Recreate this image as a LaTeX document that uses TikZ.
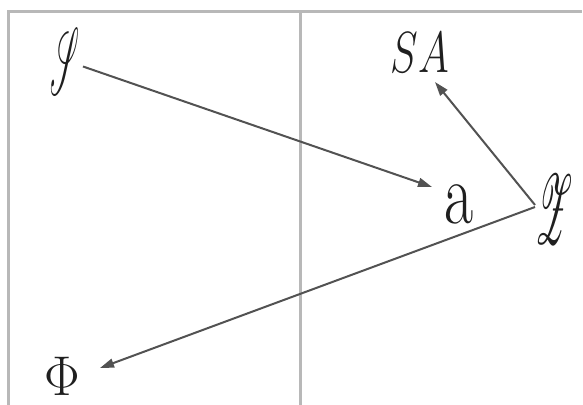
\documentclass[tikz,border=0pt]{standalone}
\usepackage{fix-cm}
\usepackage{graphicx}
\usepackage{mathrsfs}
\usetikzlibrary{arrows.meta,calc}
\begin{document}
\begin{tikzpicture}[x=0.5pt,y=-0.5pt,
  frame/.style={draw=black!28,line width=1.5pt},
  conn/.style={draw=black!68,line width=1pt,-{Triangle[length=7pt,width=4.5pt]}},
  lbl/.style={inner sep=0pt,text=black!88}]
\useasboundingbox (0,0) rectangle (583,405);
\draw[frame] (8,405) -- (8,12) -- (582,12);
\draw[frame] (300,12) -- (300,405);
\node[lbl] (S) at (65,61) {\scalebox{0.55}[1.9]{\fontsize{30}{32}\selectfont$\mathscr{S}$}};
\node[lbl] (SA) at (420,53) {\scalebox{0.72}[1]{\fontsize{29}{31}\selectfont$SA$}};
\node[lbl] (a) at (459,204) {\scalebox{0.72}[1]{\fontsize{44}{46}\selectfont a}};
\node[lbl] (Z) at (554,210) {\scalebox{0.7}[2.0]{\fontsize{30}{32}\selectfont$\mathscr{Z}$}};
\node[lbl] (Phi) at (62.5,376) {\scalebox{0.95}[1]{\fontsize{28}{30}\selectfont$\Phi$}};
\draw[conn] ($(S)+(18,5.5)$) -- ($(a)+(-27,-17)$);
\draw[conn] ($(Z)+(-19,-5)$) -- ($(SA)+(15,29)$);
\draw[conn] ($(Z)+(-19,-3)$) -- ($(Phi)+(37.5,-8)$);
\end{tikzpicture}
\end{document}
